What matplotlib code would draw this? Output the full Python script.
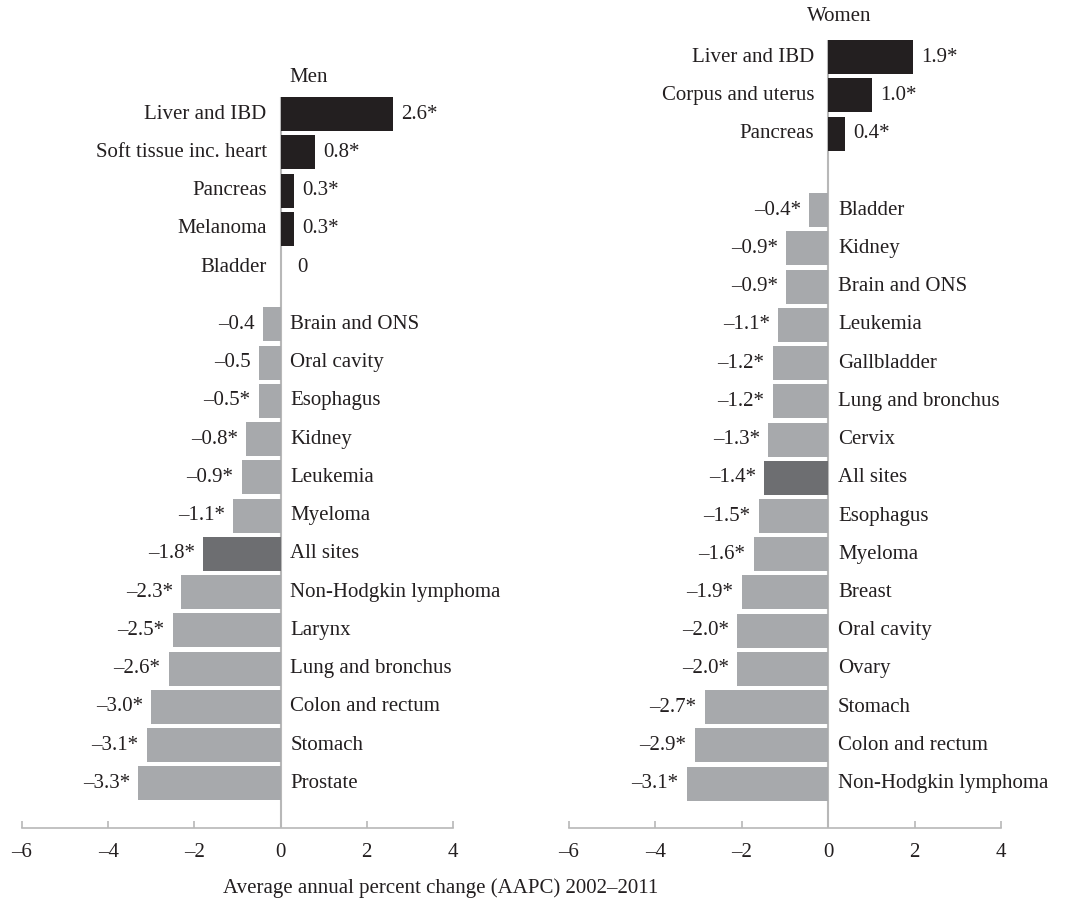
import matplotlib.pyplot as plt

plt.rcParams['font.family'] = ['Liberation Serif', 'DejaVu Serif']

# Data: AAPC 2002-2011
men_sites = ["Liver and IBD", "Soft tissue inc. heart", "Pancreas", "Melanoma", "Bladder",
             "Brain and ONS", "Oral cavity", "Esophagus", "Kidney", "Leukemia", "Myeloma",
             "All sites", "Non-Hodgkin lymphoma", "Larynx", "Lung and bronchus",
             "Colon and rectum", "Stomach", "Prostate"]
men_aapc = [2.6, 0.8, 0.3, 0.3, 0.0, -0.4, -0.5, -0.5, -0.8, -0.9, -1.1,
            -1.8, -2.3, -2.5, -2.6, -3.0, -3.1, -3.3]
men_signif = [1, 1, 1, 1, 0, 0, 0, 1, 1, 1, 1, 1, 1, 1, 1, 1, 1, 1]

women_sites = ["Liver and IBD", "Corpus and uterus", "Pancreas", "Bladder", "Kidney",
               "Brain and ONS", "Leukemia", "Gallbladder", "Lung and bronchus", "Cervix",
               "All sites", "Esophagus", "Myeloma", "Breast", "Oral cavity", "Ovary",
               "Stomach", "Colon and rectum", "Non-Hodgkin lymphoma"]
women_aapc = [1.9, 1.0, 0.4, -0.4, -0.9, -0.9, -1.1, -1.2, -1.2, -1.3,
              -1.4, -1.5, -1.6, -1.9, -2.0, -2.0, -2.7, -2.9, -3.1]
# bar lengths as drawn in the women panel (slightly longer than the printed values)
women_bars = [1.97, 1.02, 0.39, -0.44, -0.97, -0.97, -1.16, -1.28, -1.28, -1.39,
              -1.48, -1.60, -1.72, -2.00, -2.11, -2.11, -2.85, -3.09, -3.27]
women_signif = [1] * 19

xticks = [-6, -4, -2, 0, 2, 4]

POS_COLOR = '#231f20'
NEG_COLOR = '#a7a9ac'
ALL_COLOR = '#6d6e71'
TEXT_COLOR = '#231f20'
AXIS_COLOR = '#b8b8b8'
FS = 15

W, H = 1069, 901
fig = plt.figure(figsize=(W / 100, H / 100), dpi=100)


def fmt(v, star):
    s = "0" if v == 0 else f"{abs(v):.1f}"
    if v < 0:
        s = "\u2013" + s
    return s + ("*" if star else "")


def panel(rect, sites, vals, bars, signif, gap_at, gap, ybottom):
    ax = fig.add_axes(rect)
    # y positions with a gap between the rising and falling groups
    ypos = [i if i < gap_at else i + gap for i in range(len(sites))]
    colors = []
    for s, v in zip(sites, vals):
        if s == "All sites":
            colors.append(ALL_COLOR)
        elif v > 0:
            colors.append(POS_COLOR)
        else:
            colors.append(NEG_COLOR)
    ax.axvline(0, color=AXIS_COLOR, lw=1.5, zorder=1)
    ax.barh(ypos, bars, height=0.89, color=colors, zorder=2)
    for y, s, v, b, st in zip(ypos, sites, vals, bars, signif):
        lab = fmt(v, st)
        if v >= 0:
            off = 12 if v == 0 else 6
            ax.annotate(lab, (b, y), xytext=(off, 0), textcoords='offset points',
                        ha='left', va='center', fontsize=FS, color=TEXT_COLOR)
            ax.annotate(s, (0, y), xytext=(-10, 0), textcoords='offset points',
                        ha='right', va='center', fontsize=FS, color=TEXT_COLOR)
        else:
            ax.annotate(lab, (b, y), xytext=(-6, 0), textcoords='offset points',
                        ha='right', va='center', fontsize=FS, color=TEXT_COLOR)
            ax.annotate(s, (0, y), xytext=(7, 0), textcoords='offset points',
                        ha='left', va='center', fontsize=FS, color=TEXT_COLOR)
    ax.set_xlim(-6, 4)
    ax.set_ylim(ybottom, -0.45)
    ax.set_yticks([])
    ax.set_xticks(xticks)
    ax.set_xticklabels(["\u2013" + str(abs(t)) if t < 0 else str(t) for t in xticks],
                       fontsize=FS, color=TEXT_COLOR)
    ax.tick_params(axis='x', direction='in', length=5, width=1.2, color=AXIS_COLOR, pad=11)
    for sp in ['top', 'right', 'left']:
        ax.spines[sp].set_visible(False)
    ax.spines['bottom'].set_color(AXIS_COLOR)
    ax.spines['bottom'].set_linewidth(1.2)
    ax.patch.set_alpha(0)
    return ax


bottom = 1 - 828 / H
ax1 = panel([22 / W, bottom, 431 / W, (828 - 97) / H],
            men_sites, men_aapc, men_aapc, men_signif, 5, 0.5, 18.67)
ax1.text(0.2, -0.97, "Men", ha='left', va='center', fontsize=FS, color=TEXT_COLOR)

ax2 = panel([569 / W, bottom, 432 / W, (828 - 40) / H],
            women_sites, women_aapc, women_bars, women_signif, 3, 1, 20.16)
ax2.text(0.26, -1.07, "Women", ha='center', va='center', fontsize=FS, color=TEXT_COLOR)

fig.text(441 / W, 1 - 888 / H, "Average annual percent change (AAPC) 2002\u20132011",
         ha='center', va='center', fontsize=FS, color=TEXT_COLOR)

fig.savefig("out.png", dpi=100)
